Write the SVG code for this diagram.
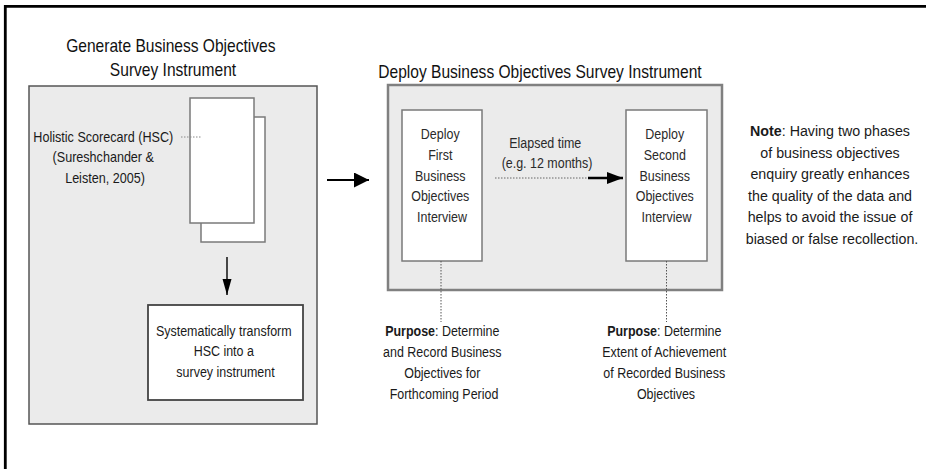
<svg xmlns="http://www.w3.org/2000/svg" width="926" height="469" viewBox="0 0 926 469">
  <defs>
    <style>
      .t { font-family: "Liberation Sans", Arial, sans-serif; font-size: 14px; fill: #1a1a1a; text-anchor: middle; }
      .title { font-family: "Liberation Sans", Arial, sans-serif; font-size: 17.5px; fill: #111; text-anchor: middle; }
      .b { font-weight: bold; }
      .panel { fill: #ebebeb; }
      .page { fill: #fff; stroke: #7a7a7a; stroke-width: 1.5; }
      .box { fill: #fff; stroke: #444; stroke-width: 1.8; }
      .ibox { fill: #fff; stroke: #7a7a7a; stroke-width: 1.5; }
      .arrow { stroke: #000; fill: none; }
      .dots { stroke: #555; stroke-width: 1; stroke-dasharray: 1.5 1.5; fill: none; }
    </style>
    <marker id="ahBig" markerUnits="userSpaceOnUse" markerWidth="16" markerHeight="15" refX="15" refY="7.5" orient="auto">
      <path d="M0,0 L15,7.5 L0,15 z" fill="#000"/>
    </marker>
    <marker id="ahMid" markerUnits="userSpaceOnUse" markerWidth="17" markerHeight="12" refX="16" refY="6" orient="auto">
      <path d="M0,0 L16,6 L0,12 z" fill="#000"/>
    </marker>
    <marker id="ahNarrow" markerUnits="userSpaceOnUse" markerWidth="17" markerHeight="10" refX="16" refY="4.5" orient="auto">
      <path d="M0,0 L16,4.5 L0,9 z" fill="#000"/>
    </marker>
  </defs>

  <rect width="926" height="469" fill="#fff"/>
  <!-- outer frame (open to the right and bottom) -->
  <path d="M5.3,469 V6.3 H926" fill="none" stroke="#000" stroke-width="2.8"/>

  <!-- phase 1: generate the survey instrument -->
  <g id="generate-phase">
    <text class="title" transform="translate(173,0) scale(0.89,1)">
      <tspan x="0" y="52">Generate Business Objectives</tspan>
      <tspan x="0" y="76">Survey Instrument</tspan>
    </text>
    <rect class="panel" x="29" y="86" width="288" height="338" stroke="#555" stroke-width="1.5"/>
  </g>

  <g id="hsc-document">
    <rect class="page" x="201" y="117" width="64" height="125"/>
    <rect class="page" x="190" y="98" width="64" height="125"/>
    <text class="t" transform="translate(105,0) scale(0.9,1)">
      <tspan x="0" y="142">Holistic Scorecard (HSC)</tspan>
      <tspan x="0" y="162.5">(Sureshchander &amp;</tspan>
      <tspan x="0" y="183">Leisten, 2005)</tspan>
    </text>
  </g>

  <g id="transform-step">
    <rect class="box" x="148" y="305" width="155" height="95"/>
    <text class="t" transform="translate(225.5,0) scale(0.89,1)">
      <tspan x="0" y="336">Systematically transform</tspan>
      <tspan x="0" y="356.5">HSC into a</tspan>
      <tspan x="0" y="377">survey instrument</tspan>
    </text>
  </g>

  <!-- phase 2: deploy the survey instrument -->
  <g id="deploy-phase">
    <text class="title" transform="translate(540,0) scale(0.89,1)">
      <tspan x="0" y="78">Deploy Business Objectives Survey Instrument</tspan>
    </text>
    <rect class="panel" x="388" y="85" width="334" height="205" stroke="#808080" stroke-width="2.5"/>
  </g>

  <g id="first-interview">
    <rect class="ibox" x="402" y="110" width="80" height="151"/>
    <text class="t" transform="translate(442,0) scale(0.89,1)" style="fill:#2a2a2a">
      <tspan x="0" y="139">Deploy</tspan>
      <tspan x="0" y="159.8">First</tspan>
      <tspan x="0" y="180.6">Business</tspan>
      <tspan x="0" y="201.4">Objectives</tspan>
      <tspan x="0" y="222.2">Interview</tspan>
    </text>
  </g>

  <g id="second-interview">
    <rect class="ibox" x="626" y="110" width="81" height="151"/>
    <text class="t" transform="translate(666.5,0) scale(0.89,1)" style="fill:#2a2a2a">
      <tspan x="0" y="139">Deploy</tspan>
      <tspan x="0" y="159.8">Second</tspan>
      <tspan x="0" y="180.6">Business</tspan>
      <tspan x="0" y="201.4">Objectives</tspan>
      <tspan x="0" y="222.2">Interview</tspan>
    </text>
  </g>

  <g id="elapsed-label">
    <text class="t" transform="translate(547,0) scale(0.89,1)" style="fill:#2a2a2a">
      <tspan x="0" y="148">Elapsed time</tspan>
      <tspan x="0" y="168">(e.g. 12 months)</tspan>
    </text>
  </g>

  <g id="purpose-first">
    <text class="t" transform="translate(444,0) scale(0.89,1)">
      <tspan x="0" y="336"><tspan class="b">Purpose</tspan>: Determine</tspan>
      <tspan x="0" y="357">and Record Business</tspan>
      <tspan x="0" y="378">Objectives for</tspan>
      <tspan x="0" y="399">Forthcoming Period</tspan>
    </text>
  </g>

  <g id="purpose-second">
    <text class="t" transform="translate(666,0) scale(0.89,1)">
      <tspan x="0" y="336"><tspan class="b">Purpose</tspan>: Determine</tspan>
      <tspan x="0" y="357">Extent of Achievement</tspan>
      <tspan x="0" y="378">of Recorded Business</tspan>
      <tspan x="0" y="399">Objectives</tspan>
    </text>
  </g>

  <g id="note">
    <text class="t" transform="translate(832,0) scale(0.92,1)" style="font-size:15.5px">
      <tspan x="0" y="136"><tspan class="b">Note</tspan>: Having two phases</tspan>
      <tspan x="0" y="157.6">of business objectives</tspan>
      <tspan x="0" y="179.2">enquiry greatly enhances</tspan>
      <tspan x="0" y="200.8">the quality of the data and</tspan>
      <tspan x="0" y="222.4">helps to avoid the issue of</tspan>
      <tspan x="0" y="244">biased or false recollection.</tspan>
    </text>
  </g>

  <!-- connectors -->
  <g id="connectors">
    <line class="dots" x1="181" y1="137" x2="201" y2="137" style="stroke:#888"/>
    <line class="arrow" x1="227" y1="257" x2="227" y2="295" stroke-width="1.4" marker-end="url(#ahNarrow)"/>
    <line class="arrow" x1="327" y1="180" x2="369" y2="180" stroke-width="2" marker-end="url(#ahBig)"/>
    <line class="dots" x1="495" y1="178" x2="588" y2="178" style="stroke:#666"/>
    <line class="arrow" x1="588" y1="178" x2="623" y2="178" stroke-width="2.5" marker-end="url(#ahMid)"/>
    <line class="dots" x1="441" y1="261" x2="441" y2="322"/>
    <line class="dots" x1="666.5" y1="261" x2="666.5" y2="322"/>
  </g>
</svg>
